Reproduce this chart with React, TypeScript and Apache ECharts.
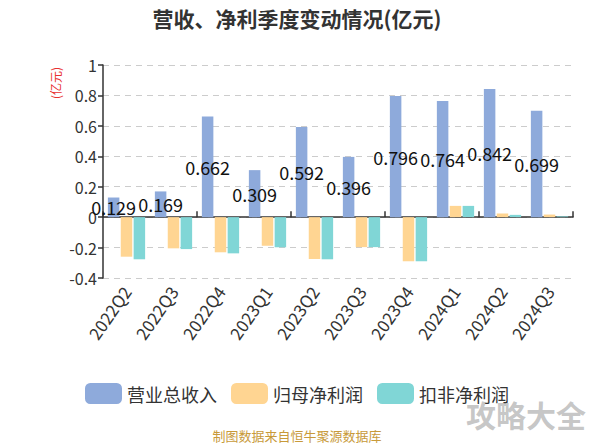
import React, { useEffect, useRef } from "react";
import * as echarts from "echarts";

const categories = ["2022Q2", "2022Q3", "2022Q4", "2023Q1", "2023Q2", "2023Q3", "2023Q4", "2024Q1", "2024Q2", "2024Q3"];
const revenue = [0.129, 0.169, 0.662, 0.309, 0.592, 0.396, 0.796, 0.764, 0.842, 0.699];
const netProfit = [-0.26, -0.205, -0.231, -0.188, -0.275, -0.197, -0.29, 0.074, 0.024, 0.017];
const deductedProfit = [-0.277, -0.21, -0.238, -0.198, -0.277, -0.197, -0.29, 0.074, 0.015, 0.005];
const seriesNames = ["营业总收入", "归母净利润", "扣非净利润"];
const colors = ["#8eaadb", "#ffd592", "#80d6d6"];

const FONT = "'Noto Sans CJK SC', 'Noto Sans', sans-serif";

export default function App() {
  const ref = useRef<HTMLDivElement>(null);
  useEffect(() => {
    if (!ref.current) return;
    const chart = echarts.init(ref.current, null, { renderer: "svg" });
    chart.setOption({
      animation: false,
      backgroundColor: "#ffffff",
      textStyle: { fontFamily: FONT },
      title: {
        text: "营收、净利季度变动情况(亿元)",
        left: "center",
        top: 2,
        textStyle: { fontSize: 21, fontWeight: "bold", color: "#333", fontFamily: FONT },
      },
      legend: {
        data: seriesNames,
        bottom: 35,
        left: "center",
        itemWidth: 37,
        itemHeight: 21,
        itemGap: 14,
        icon: "roundRect",
        textStyle: { fontSize: 18, color: "#333", fontFamily: FONT },
      },
      grid: { left: 103, right: 21, top: 65, bottom: 166, containLabel: false },
      xAxis: [
        {
          type: "category",
          data: categories,
          position: "bottom",
          axisLine: { show: false, onZero: false },
          axisTick: { show: false },
          axisLabel: { rotate: 55, fontSize: 17, color: "#333", margin: 10, interval: 0, fontFamily: FONT },
          splitLine: { show: false },
        },
        {
          type: "category",
          data: categories,
          position: "bottom",
          axisLine: { show: true, onZero: true, lineStyle: { color: "#333", width: 1.5 } },
          axisTick: { show: true, inside: true, length: 6, lineStyle: { color: "#333", width: 1.5 } },
          axisLabel: { show: false },
          splitLine: { show: false },
        },
      ],
      yAxis: {
        type: "value",
        min: -0.4,
        max: 1,
        interval: 0.2,
        axisLine: { show: true, lineStyle: { color: "#333", width: 1.5 } },
        axisTick: { show: true, length: 5, lineStyle: { color: "#333", width: 1.5 } },
        axisLabel: { fontSize: 16, color: "#333", margin: 6, fontFamily: FONT },
        splitLine: { show: true, lineStyle: { color: "#cccccc", type: [6, 5], width: 1.2 } },
      },
      series: [
        {
          name: seriesNames[0],
          type: "bar",
          data: revenue,
          barWidth: 11.5,
          barGap: "12%",
          itemStyle: { color: colors[0] },
          label: { show: true, position: "inside", color: "#111", fontSize: 18, fontFamily: FONT },
        },
        {
          name: seriesNames[1],
          type: "bar",
          data: netProfit,
          barWidth: 11.5,
          barGap: "12%",
          itemStyle: { color: colors[1] },
        },
        {
          name: seriesNames[2],
          type: "bar",
          data: deductedProfit,
          barWidth: 11.5,
          barGap: "12%",
          itemStyle: { color: colors[2] },
        },
      ],
      graphic: [
        {
          type: "text",
          x: 55,
          y: 83,
          rotation: Math.PI / 2,
          style: {
            text: "(亿元)",
            fill: "#e83030",
            fontSize: 12,
            fontFamily: FONT,
            textAlign: "center",
            textVerticalAlign: "middle",
          },
        },
        {
          type: "text",
          x: 297,
          y: 435,
          style: {
            text: "制图数据来自恒牛聚源数据库",
            fill: "#c89a3a",
            fontSize: 13,
            fontFamily: FONT,
            textAlign: "center",
            textVerticalAlign: "middle",
          },
        },
        {
          type: "text",
          x: 586,
          y: 414,
          style: {
            text: "攻略大全",
            fill: "rgba(150,150,150,0.55)",
            fontSize: 30,
            fontWeight: "bold",
            fontFamily: FONT,
            textAlign: "right",
            textVerticalAlign: "middle",
          },
        },
      ],
    });
    return () => chart.dispose();
  }, []);
  return <div ref={ref} style={{ width: 594, height: 444, position: "absolute", left: 0, top: 0 }} />;
}
